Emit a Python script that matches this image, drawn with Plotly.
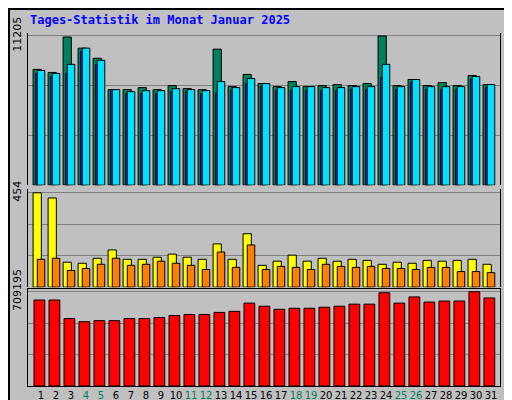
import plotly.graph_objects as go

days = list(range(1, 32))
weekend = [4, 5, 11, 12, 18, 19, 25, 26]

anfragen = [8695, 8467, 11129, 10292, 9532, 7174, 7174, 7326, 7174, 7478, 7250, 7174, 10216, 7402, 8315, 7630,
            7402, 7782, 7402, 7478, 7554, 7478, 7630, 11205, 7478, 7934, 7478, 7706, 7478, 8239, 7554]
dateien = [8391, 8163, 8391, 10064, 9075, 7174, 6870, 6870, 6870, 7022, 7022, 6870, 6946, 7098, 7630, 7402,
           7098, 7098, 7098, 7098, 7098, 7174, 7174, 8087, 7174, 7706, 7174, 7174, 7174, 7935, 7326]
seiten = [8619, 8391, 9075, 10292, 9380, 7174, 7022, 7098, 7098, 7250, 7174, 7098, 7782, 7326, 8011, 7630,
          7326, 7402, 7402, 7326, 7326, 7402, 7402, 9075, 7402, 7935, 7402, 7402, 7402, 8163, 7554]
besuche = [454, 429, 120, 115, 139, 179, 134, 134, 144, 159, 144, 134, 208, 134, 257, 105,
           125, 154, 125, 139, 125, 134, 129, 110, 120, 115, 129, 125, 129, 134, 110]
rechner = [134, 139, 80, 90, 110, 139, 105, 110, 125, 115, 105, 85, 169, 95, 203, 85,
           100, 95, 85, 110, 100, 95, 100, 90, 90, 85, 95, 95, 75, 75, 70]
kb = [647000, 647000, 507300, 484000, 491800, 491800, 507300, 507300, 515100, 530600, 538400, 538400, 553900,
      561700, 623700, 600400, 577100, 584900, 584900, 592700, 600400, 615900, 615900, 701300, 623700, 670300,
      631500, 639300, 639300, 709195, 662500]

ticktext = [f"<span style='color:#00805c'>{d}</span>" if d in weekend else str(d) for d in days]

fig = go.Figure()

def bars(y, color, axis, off, w):
    fig.add_trace(go.Bar(x=days, y=y, yaxis=axis, offset=off, width=w,
                         marker=dict(color=color, line=dict(color="black", width=1))))

bars(anfragen, "#00805c", "y", -0.53, 0.55)
bars(dateien, "#0040ff", "y", -0.36, 0.2)
bars(seiten, "#00e0ff", "y", -0.25, 0.5)
bars(besuche, "#ffff00", "y2", -0.53, 0.55)
bars(rechner, "#ff8000", "y2", -0.25, 0.5)
bars(kb, "#ff0000", "y3", -0.47, 0.72)

def yax(vmax, dom):
    return dict(domain=dom, range=[0, vmax * 1.02], tickvals=[vmax / 3, vmax * 2 / 3, vmax],
                ticktext=["", "", str(vmax)], tickangle=-90, showgrid=True, gridcolor="#808080",
                zeroline=False, showline=True, linecolor="black", mirror=True, ticks="",
                automargin=False, ticklabelstandoff=2,
                tickfont=dict(family="DejaVu Sans", size=11, color="black"), fixedrange=True)

fig.update_layout(
    width=512, height=400, autosize=False, showlegend=False, barmode="overlay",
    paper_bgcolor="#c0c0c0", plot_bgcolor="#c0c0c0",
    margin=dict(l=20, r=20, t=25, b=22),
    xaxis=dict(range=[0.13, 31.6], tickvals=days, ticktext=ticktext, showgrid=False, ticks="",
               showline=True, linecolor="black", mirror=True, anchor="y3", automargin=False,
               tickfont=dict(family="DejaVu Sans", size=10, color="black")),
    yaxis=yax(11205, [0.569, 1.0]),
    yaxis2=yax(454, [0.28, 0.558]),
    yaxis3=yax(709195, [0.0, 0.275]),
    font=dict(family="DejaVu Sans"),
)
fig.update_layout(yaxis2_range=[0, 454 * 1.04], yaxis3_range=[0, 709195 * 1.03])

fig.add_annotation(text="<b>Tages-Statistik im Monat Januar 2025</b>", xref="paper", yref="paper",
                   x=0.0, y=1.0 + 13 / 353, xanchor="left", yanchor="middle", showarrow=False,
                   font=dict(family="DejaVu Sans Mono", size=12, color="#0000ff"))

def side(text, y0):
    fig.add_annotation(text=text, xref="paper", yref="paper", x=1 + 10 / 472, y=y0, textangle=-90,
                       xanchor="center", yanchor="bottom", showarrow=False,
                       font=dict(family="DejaVu Sans Mono", size=11))

side("<span style='color:#00e0ff'>Seiten</span><span style='color:black'> / </span>"
     "<span style='color:#0040ff'>Dateien</span><span style='color:black'> / </span>"
     "<span style='color:#00805c'>Anfragen</span>", 0.569)
side("<span style='color:#ff8000'>Rechner</span><span style='color:black'> / </span>"
     "<span style='color:#ffff00'>Besuche</span>", 0.28)
side("<span style='color:#ff0000'>kb</span>", 0.0)

fig.add_shape(type="rect", xref="paper", yref="paper", x0=-19 / 472, x1=1 + 19 / 472,
              y0=-21 / 353, y1=1 + 24 / 353, line=dict(color="black", width=2))

fig.write_html("out.html")
